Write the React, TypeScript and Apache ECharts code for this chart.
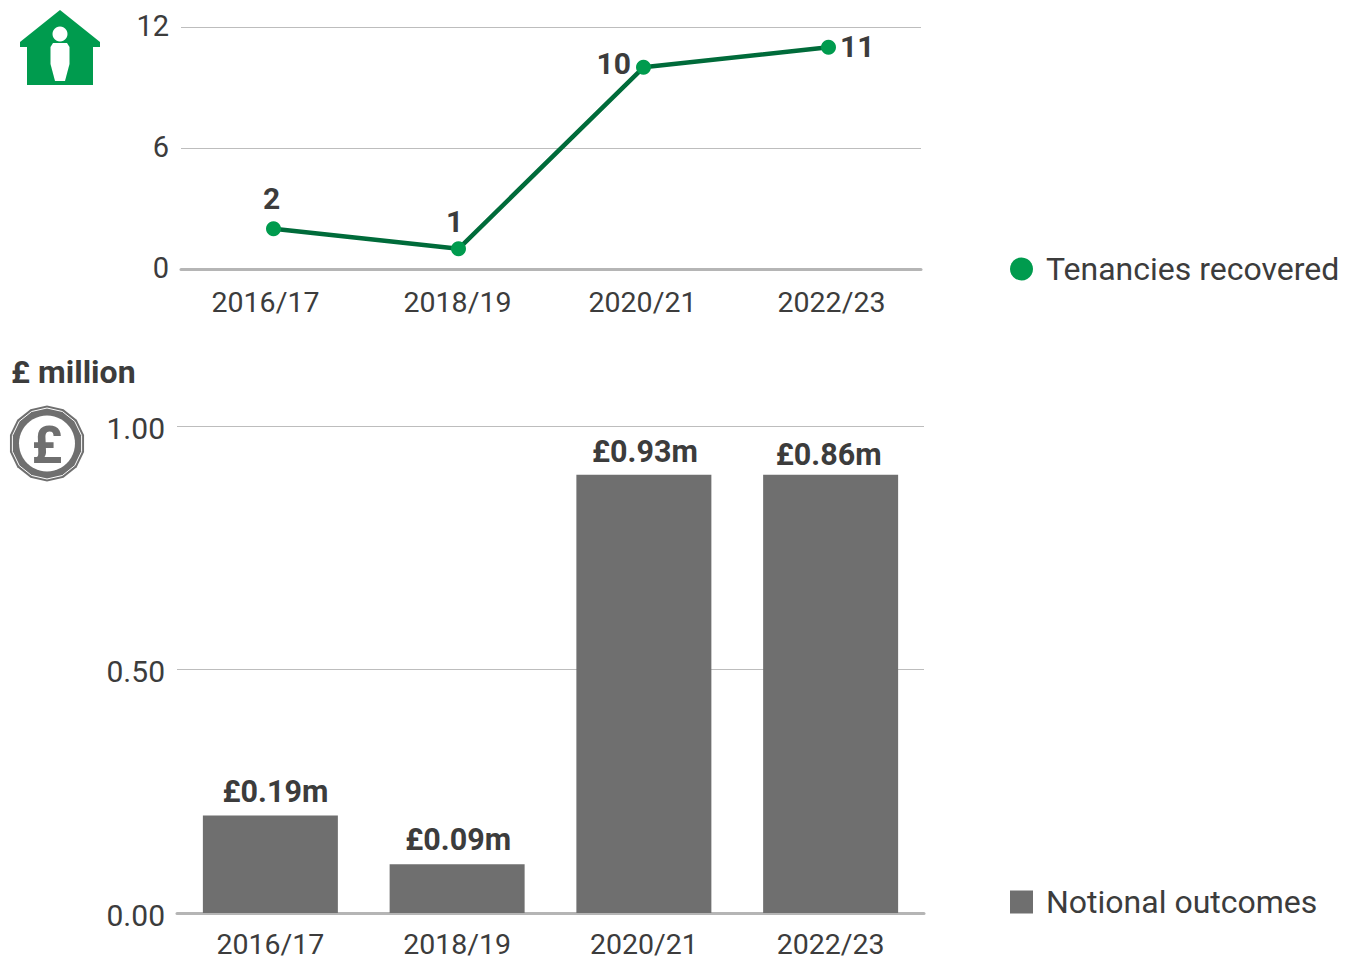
import React, { useEffect, useRef } from "react";
import * as echarts from "echarts";

const periods = ["2016/17", "2018/19", "2020/21", "2022/23"];
const tenancies = [2, 1, 10, 11];
const notional = [0.2, 0.1, 0.9, 0.9];
const notionalLabels = ["£0.19m", "£0.09m", "£0.93m", "£0.86m"];

const FONT = "Roboto";
const TEXT = "#3c3c3c";
const GREEN = "#009b4e";
const GREY = "#6f6f6f";

const lineLabelStyles = [
  { position: "top", offset: [-2, -3] },
  { position: "top", offset: [-4, 0] },
  { position: "left", offset: [0, -4] },
  { position: "right", offset: [-1, -1] },
];
const barLabelOffsets = [[5, -4], [1, -4], [1, -3], [-2, 0]];
const topLabelShift = [[0, 16, 0, 0], [0, 2, 0, 0], [0, 2, 0, 0], [0, 0, 0, 6]];

const polygonPoints = (cx: number, cy: number, r: number, n: number) =>
  Array.from({ length: n }, (_, i) => {
    const a = ((i + 0.5) / n) * Math.PI * 2;
    return [cx + r * Math.cos(a), cy + r * Math.sin(a)];
  });

export default function App() {
  const ref = useRef<HTMLDivElement>(null);
  useEffect(() => {
    const chart = echarts.init(ref.current!, undefined, { renderer: "svg" });
    const axisText = { color: TEXT, fontFamily: FONT, fontSize: 28.5 };
    const rich: any = {};
    topLabelShift.forEach((p, i) => {
      rich["s" + i] = { ...axisText, padding: p };
    });
    chart.setOption({
      animation: false,
      backgroundColor: "#ffffff",
      grid: [
        { left: 181, top: 27, width: 740, height: 242, outerBoundsMode: "none" },
        { left: 177, top: 426, width: 747, height: 487, outerBoundsMode: "none" },
      ],
      xAxis: [
        {
          type: "category",
          gridIndex: 0,
          data: periods,
          axisTick: { show: false },
          axisLine: { lineStyle: { color: "#b5b5b5", width: 3 } },
          axisLabel: {
            ...axisText,
            margin: 19,
            interval: 0,
            formatter: (v: string) => `{s${periods.indexOf(v)}|${v}}`,
            rich,
          },
        },
        {
          type: "category",
          gridIndex: 1,
          data: periods,
          axisTick: { show: false },
          axisLine: { lineStyle: { color: "#b5b5b5", width: 3 } },
          axisLabel: { ...axisText, margin: 19, lineHeight: 24, interval: 0 },
        },
      ],
      yAxis: [
        {
          type: "value",
          gridIndex: 0,
          min: 0,
          max: 12,
          interval: 6,
          axisLine: { show: false },
          axisTick: { show: false },
          splitLine: { lineStyle: { color: "#bdbdbd", width: 1 } },
          axisLabel: {
            ...axisText,
            fontSize: 29,
            margin: 12,
            verticalAlign: "bottom",
            lineHeight: 3,
          },
        },
        {
          type: "value",
          gridIndex: 1,
          min: 0,
          max: 1,
          interval: 0.5,
          axisLine: { show: false },
          axisTick: { show: false },
          splitLine: { lineStyle: { color: "#bdbdbd", width: 1 } },
          axisLabel: {
            ...axisText,
            fontSize: 30,
            margin: 12,
            verticalAlign: "top",
            lineHeight: 4,
            formatter: (v: number) => v.toFixed(2),
          },
        },
      ],
      legend: [
        {
          left: 1010,
          top: 253,
          padding: 0,
          selectedMode: false,
          data: [{ name: "Tenancies recovered", icon: "circle" }],
          itemWidth: 23,
          itemHeight: 23,
          textStyle: { ...axisText, fontSize: 32, padding: [0, 0, 0, 8] },
        },
        {
          left: 1010,
          top: 886,
          padding: 0,
          selectedMode: false,
          data: [{ name: "Notional outcomes", icon: "rect" }],
          itemWidth: 23,
          itemHeight: 23,
          textStyle: { ...axisText, fontSize: 32, padding: [0, 0, 0, 8] },
        },
      ],
      series: [
        {
          name: "Tenancies recovered",
          type: "line",
          xAxisIndex: 0,
          yAxisIndex: 0,
          data: tenancies.map((v, i) => ({
            value: v,
            label: {
              show: true,
              position: lineLabelStyles[i].position,
              offset: lineLabelStyles[i].offset,
            },
          })),
          symbol: "circle",
          symbolSize: 15,
          itemStyle: { color: GREEN },
          lineStyle: { color: "#006b3a", width: 4.5 },
          label: {
            show: true,
            color: TEXT,
            fontFamily: FONT,
            fontWeight: "bold",
            fontSize: 30,
          },
        },
        {
          name: "Notional outcomes",
          type: "bar",
          xAxisIndex: 1,
          yAxisIndex: 1,
          barWidth: 135,
          data: notional.map((v, i) => ({
            value: v,
            label: {
              show: true,
              position: "top",
              offset: barLabelOffsets[i],
              formatter: notionalLabels[i],
            },
          })),
          itemStyle: { color: GREY },
          label: {
            show: true,
            color: TEXT,
            fontFamily: FONT,
            fontWeight: "bold",
            fontSize: 30.5,
          },
        },
      ],
      graphic: [
        {
          type: "polygon",
          shape: {
            points: [
              [60, 10], [100, 42], [100, 47], [93, 47], [93, 85],
              [27, 85], [27, 47], [20, 47], [20, 42],
            ],
          },
          style: { fill: GREEN },
        },
        { type: "circle", shape: { cx: 60, cy: 34, r: 7.5 }, style: { fill: "#fff" } },
        {
          type: "polygon",
          shape: {
            points: [
              [53, 43], [67, 43], [69.5, 47], [69.5, 64], [65, 81],
              [55, 81], [50.5, 64], [50.5, 47],
            ],
          },
          style: { fill: "#fff" },
        },
        {
          type: "polygon",
          shape: { points: polygonPoints(47, 443.5, 38, 14) },
          style: { fill: GREY },
        },
        {
          type: "polygon",
          shape: { points: polygonPoints(47, 443.5, 35.5, 14) },
          style: { fill: "none", stroke: "#fff", lineWidth: 1 },
        },
        { type: "circle", shape: { cx: 47, cy: 443.5, r: 28 }, style: { fill: "#fff" } },
        {
          type: "text",
          x: 47,
          y: 445,
          style: {
            text: "£",
            fill: GREY,
            fontFamily: FONT,
            fontWeight: "bold",
            fontSize: 52,
            textAlign: "center",
            textVerticalAlign: "middle",
          },
        },
        {
          type: "text",
          x: 11,
          y: 372,
          style: {
            text: "£ million",
            fill: TEXT,
            fontFamily: FONT,
            fontWeight: "bold",
            fontSize: 32,
            textVerticalAlign: "middle",
          },
        },
      ],
    });
    return () => chart.dispose();
  }, []);
  return (
    <div
      ref={ref}
      style={{ position: "absolute", left: 0, top: 0, width: 1352, height: 959 }}
    />
  );
}
